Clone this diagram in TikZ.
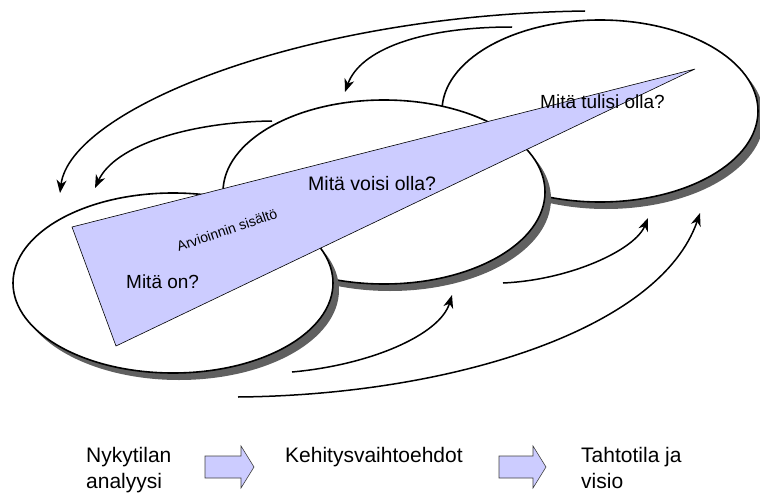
\documentclass[tikz,border=0pt]{standalone}
\usepackage{fontspec}
\setmainfont{Liberation Sans}
\usetikzlibrary{arrows.meta}
\definecolor{lav}{RGB}{204,204,255}
\definecolor{shade}{RGB}{96,96,96}
\begin{document}
\begin{tikzpicture}[x=1pt,y=-1pt,
  oval/.style={draw=black,fill=white,line width=1.6pt},
  ovalshadow/.style={fill=shade,draw=none},
  flow/.style={line width=1.5pt,-{Stealth[length=13pt,width=10pt,inset=4pt]}},
  wedge/.style={fill=lav,draw=black,line width=0.6pt},
  blockarrow/.style={fill=lav,draw=black!75,line width=0.6pt},
  big/.style={font=\fontsize{21}{26}\selectfont,inner sep=0pt,anchor=north west,align=left},
  q/.style={font=\fontsize{19}{23}\selectfont,inner sep=0pt,anchor=base west}]
\useasboundingbox (0,0) rectangle (760,495);
\clip (0,0) rectangle (760,495);

% right oval
\fill[ovalshadow] (606,118) ellipse [x radius=158pt, y radius=91pt];
\draw[oval] (600,111) ellipse [x radius=158pt, y radius=91pt];
% middle oval
\fill[ovalshadow] (390,199) ellipse [x radius=161pt, y radius=92pt];
\draw[oval] (384,192) ellipse [x radius=161pt, y radius=92pt];
% left oval
\fill[ovalshadow] (179,290) ellipse [x radius=160pt, y radius=90pt];
\draw[oval] (173,283) ellipse [x radius=160pt, y radius=90pt];

% wedge
\draw[wedge] (72,227) -- (695,69) -- (116,346) -- cycle;

% texts in ovals
\node[font=\fontsize{14}{16}\selectfont,inner sep=0pt,rotate=19] (arv) at (227,230) {Arvioinnin sisältö};
\node[q] (q1) at (126,288) {Mitä on?};
\node[q,font=\fontsize{19.5}{23}\selectfont] (q2) at (308,190) {Mitä voisi olla?};
\node[q] (q3) at (540,108) {Mitä tulisi olla?};

% feedback arrows (top)
\coordinate (a1s) at (585,11);  \coordinate (a1e) at (60,193);
\coordinate (a2s) at (512,27);  \coordinate (a2e) at (345,92);
\coordinate (a3s) at (272,121); \coordinate (a3e) at (95,188);
\draw[flow] (a1s) .. controls (300,15) and (70,110) .. (a1e);
\draw[flow] (a2s) .. controls (420,27) and (360,50) .. (a2e);
\draw[flow] (a3s) .. controls (190,122) and (115,145) .. (a3e);

% forward arrows (bottom)
\coordinate (b1s) at (238,397); \coordinate (b1e) at (700,213);
\coordinate (b2s) at (292,372); \coordinate (b2e) at (452,295);
\coordinate (b3s) at (503,283); \coordinate (b3e) at (648,218);
\draw[flow] (b1s) .. controls (450,395) and (660,330) .. (b1e);
\draw[flow] (b2s) .. controls (370,365) and (440,335) .. (b2e);
\draw[flow] (b3s) .. controls (570,280) and (635,250) .. (b3e);

% bottom row
\node[big] (t1) at (86,447) {Nykytilan\\analyysi};
\node[big] (t2) at (285,447) {Kehitysvaihtoehdot};
\node[big] (t3) at (581,447) {Tahtotila ja\\visio};
\draw[blockarrow] (205,456) -- (241,456) -- (241,446) -- (254,467) -- (241,488) -- (241,478) -- (205,478) -- cycle;
\draw[blockarrow] (499,456) -- (533,456) -- (533,446) -- (546,467) -- (533,488) -- (533,478) -- (499,478) -- cycle;
\end{tikzpicture}
\end{document}
